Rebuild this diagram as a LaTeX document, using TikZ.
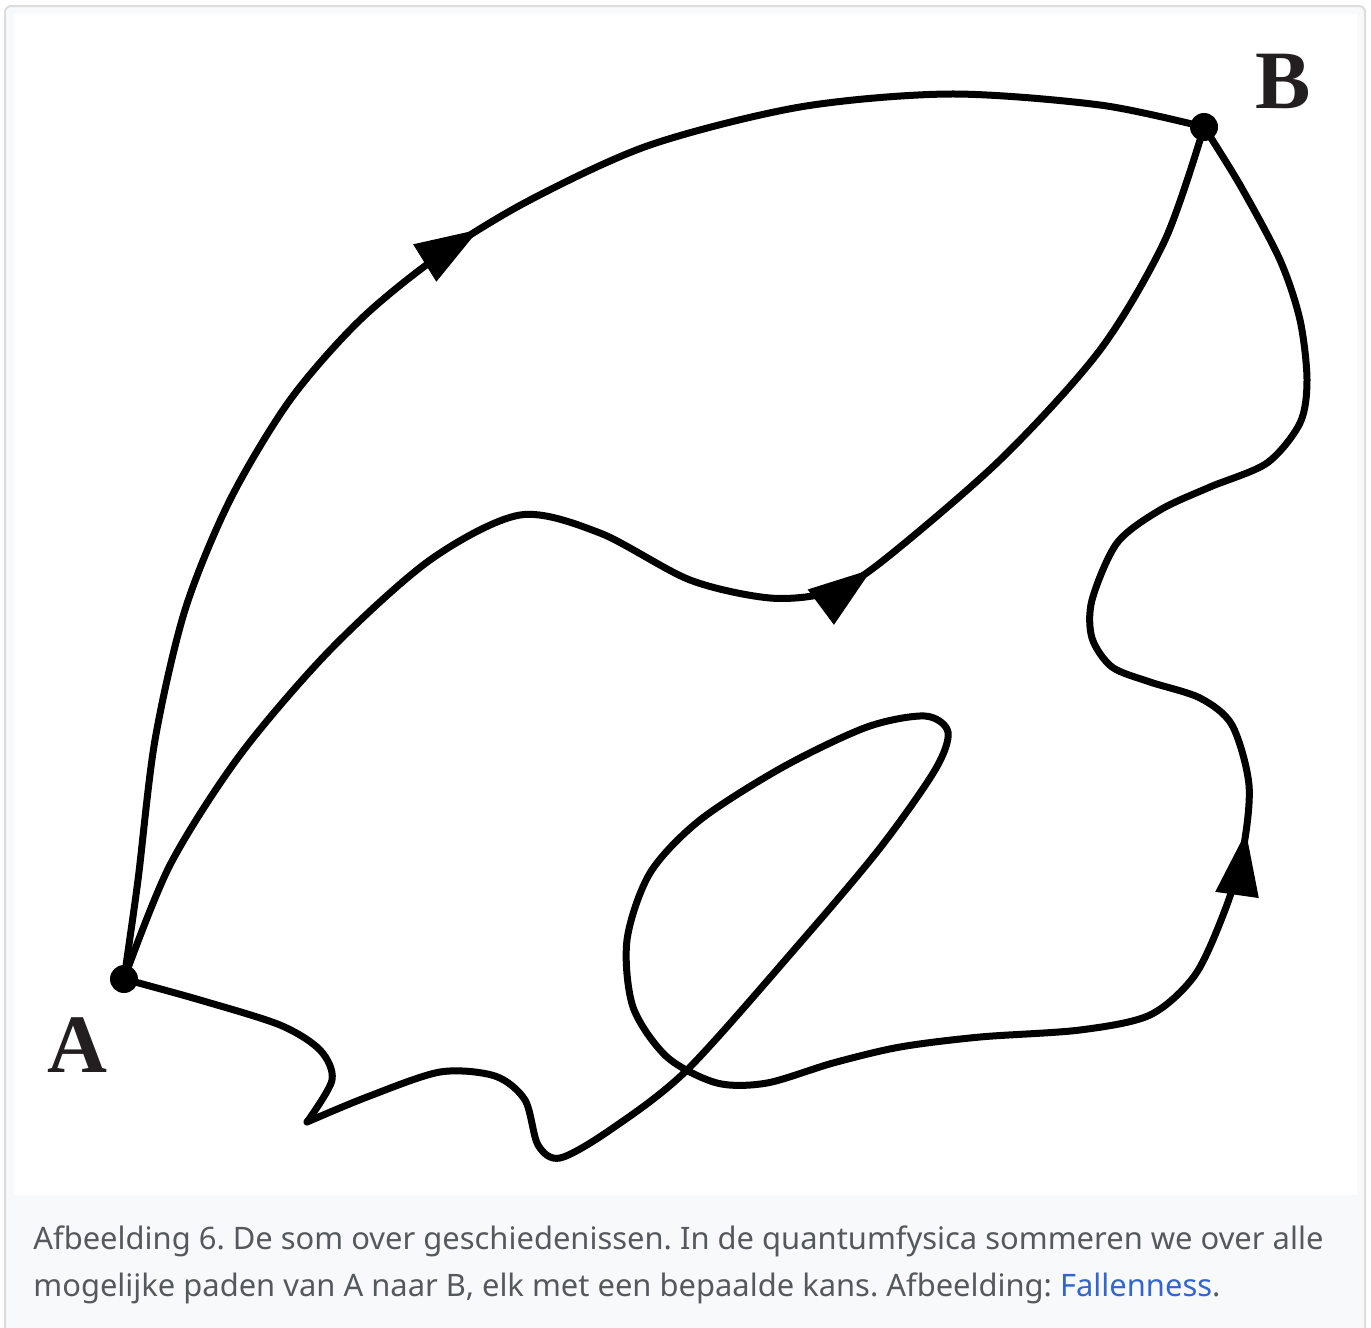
\documentclass[tikz,border=0pt]{standalone}
\usepackage{fontspec}
\setmainfont{Liberation Serif}
\newfontfamily\capfont{Noto Sans}
\usetikzlibrary{arrows.meta,decorations.markings}
\definecolor{framegray}{HTML}{DDDDDD}
\definecolor{padgray}{HTML}{F8F9FA}
\definecolor{captext}{HTML}{54595D}
\definecolor{linkblue}{HTML}{3366CC}
\definecolor{labelblack}{HTML}{231F20}
\begin{document}
\frenchspacing
\begin{tikzpicture}[x=0.5pt,y=-0.5pt,
  curve/.style={line width=3.5pt, line cap=round, line join=round},
  arrowat/.style={postaction={decorate}, decoration={markings, mark=at position #1 with {\arrow{Triangle[length=32pt,width=21pt]}}}},
  dot/.style={circle, fill=black, minimum size=14pt, inner sep=0pt},
  ptlabel/.style={font=\fontsize{41.5pt}{41.5pt}\selectfont\bfseries, text=labelblack, anchor=base west, inner sep=0pt},
  caption/.style={font=\capfont\fontsize{15.46pt}{15.46pt}\selectfont, text=captext, anchor=base west, inner sep=0pt}]
\useasboundingbox (0,0) rectangle (1371,1328);
\fill[padgray, rounded corners=3pt] (5,6) rectangle (1365,1345);
\draw[framegray, line width=1pt, rounded corners=3pt] (5,6) rectangle (1365,1345);
\fill[white] (14,14) rectangle (1357,1195);

\coordinate (A) at (124,979);
\coordinate (B) at (1204,127);
\coordinate (cusp) at (307,1122);

% outer path
\draw[curve, arrowat=0.535] plot[smooth, tension=0.5] coordinates {(A) (138,880) (155,740) (185,610) (230,500) (290,400) (360,320) (440,255) (530,200) (650,145) (800,107) (950,94) (1100,105) (B)};
% middle path
\draw[curve, arrowat=0.64] plot[smooth, tension=0.5] coordinates {(A) (170,865) (240,755) (330,650) (430,560) (520,515) (600,533) (690,580) (770,598) (830,592) (880,563) (1000,460) (1100,350) (1165,240) (B)};
% lower wiggly path
\draw[curve] plot[smooth, tension=0.5] coordinates {(A) (200,1000) (280,1025) (320,1050) (332,1080) (cusp)};
\draw[curve, arrowat=0.70] plot[smooth, tension=0.5] coordinates {(cusp) (367,1097) (440,1072) (495,1076) (525,1100) (538,1145) (560,1158) (610,1130) (687,1070) (800,943) (880,848) (935,770) (948,732) (925,716) (867,727) (783,767) (700,820) (650,873) (627,940) (633,1007) (667,1057) (717,1083) (767,1083) (833,1063) (900,1047) (980,1037) (1080,1030) (1150,1015) (1195,975) (1225,910) (1243,850) (1249,785) (1232,725) (1200,698) (1150,682) (1112,667) (1092,638) (1092,600) (1117,543) (1160,510) (1210,487) (1267,463) (1300,423) (1307,380) (1300,320) (1280,260) (1240,185) (B)};

\node[dot] (dotA) at (A) {};
\node[dot] (dotB) at (B) {};
\node[ptlabel] (labA) at (47,1072) {A};
\node[ptlabel] (labB) at (1255,108) {B};

\node[caption] (cap1) at (33,1249) {Afbeelding 6. De som over geschiedenissen. In de quantumfysica sommeren we over alle};
\node[caption] (cap2) at (33,1296) {mogelijke paden van A naar B, elk met een bepaalde kans. Afbeelding: \textcolor{linkblue}{Fallenness}.};
\end{tikzpicture}
\end{document}
